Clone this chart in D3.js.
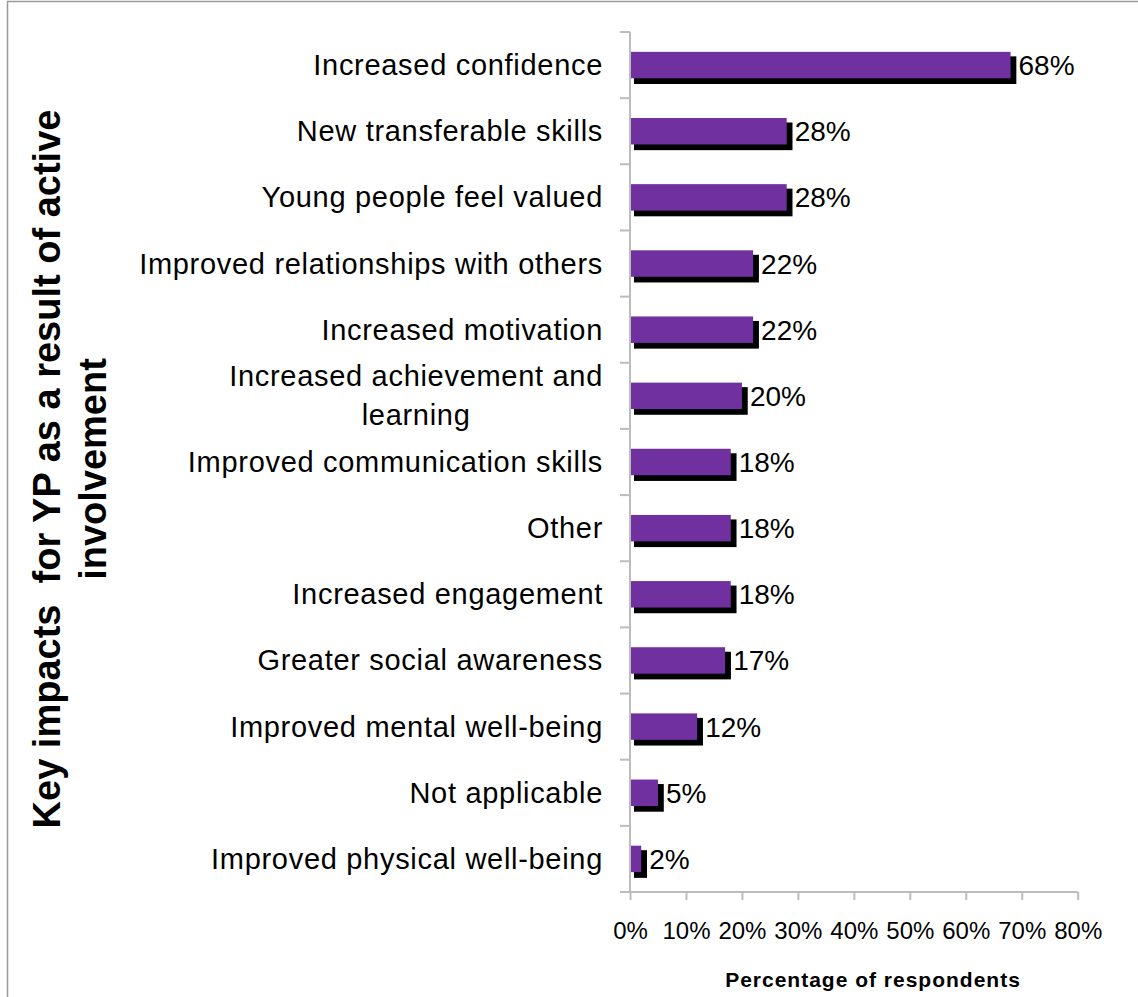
<!DOCTYPE html>
<html>
<head>
<meta charset="utf-8">
<script src="https://cdn.jsdelivr.net/npm/d3@7"></script>
<style>
  html, body { margin: 0; padding: 0; background: #fff; }
  svg { display: block; font-family: "Liberation Sans", Arial, sans-serif; }
</style>
</head>
<body>
<svg id="chart" width="1138" height="997"></svg>
<script>
// Impact categories, top to bottom
const categories = [
  "Increased confidence",
  "New transferable skills",
  "Young people feel valued",
  "Improved relationships with others",
  "Increased motivation",
  "Increased achievement and learning",
  "Improved communication skills",
  "Other",
  "Increased engagement",
  "Greater social awareness",
  "Improved mental well-being",
  "Not applicable",
  "Improved physical well-being"
];
// Share of respondents (%) for each category
const values = [68, 28, 28, 22, 22, 20, 18, 18, 18, 17, 12, 5, 2];
// Wrapped category labels
const labelLines = {
  "Increased achievement and learning": ["Increased achievement and", "learning"]
};
const xTicks = [0, 10, 20, 30, 40, 50, 60, 70, 80];
const yTitleLines = ["Key impacts  for YP as a result of active", "involvement"];
const xTitle = "Percentage of respondents";

const svg = d3.select("#chart");
const W = 1138, H = 997;
const plot = { left: 630, right: 1077.7, top: 32, bottom: 892 };
const axisColor = "#bcbcbc";
const barColor = "#7030A0";
const labelSize = 29, labelSpacing = 0.7;

// Outer frame (only top and left edges fall inside the canvas)
svg.append("rect")
  .attr("x", 7.5).attr("y", 1.5)
  .attr("width", W + 20).attr("height", H + 20)
  .attr("fill", "none").attr("stroke", "#9a9a9a").attr("stroke-width", 1.5);

const x = d3.scaleLinear().domain([0, 80]).range([plot.left, plot.right]);
const y = d3.scaleBand().domain(categories).range([plot.top, plot.bottom]).padding(0);
const barH = y.bandwidth() * 0.4;

// Bars with offset drop shadow
const g = svg.append("g");
const rows = g.selectAll("g.row").data(categories.map((c, i) => ({ c, v: values[i] })))
  .join("g").attr("class", "row");

rows.append("rect")
  .attr("x", x(0) + 4)
  .attr("y", d => y(d.c) + y.bandwidth() / 2 - barH / 2 + 4.5)
  .attr("width", d => x(d.v) - x(0) + 1.8)
  .attr("height", barH + 1.2)
  .attr("fill", "#000");

rows.append("rect")
  .attr("x", x(0))
  .attr("y", d => y(d.c) + y.bandwidth() / 2 - barH / 2)
  .attr("width", d => x(d.v) - x(0))
  .attr("height", barH)
  .attr("fill", barColor);

// Value labels
rows.append("text")
  .attr("x", d => x(d.v) + 8)
  .attr("y", d => y(d.c) + y.bandwidth() / 2 + 10)
  .attr("font-size", 28)
  .attr("fill", "#000")
  .text(d => d.v + "%");

// Category axis line and ticks at band boundaries
const yAxisG = svg.append("g");
yAxisG.append("line")
  .attr("x1", plot.left).attr("x2", plot.left)
  .attr("y1", plot.top).attr("y2", plot.bottom)
  .attr("stroke", axisColor).attr("stroke-width", 2);
const bounds = categories.map(c => y(c)).concat([plot.bottom]);
yAxisG.selectAll("line.tick").data(bounds).join("line")
  .attr("class", "tick")
  .attr("x1", plot.left - 10).attr("x2", plot.left)
  .attr("y1", d => d).attr("y2", d => d)
  .attr("stroke", axisColor).attr("stroke-width", 2);

// Category labels
const labelRight = 603;
categories.forEach(c => {
  const cy = y(c) + y.bandwidth() / 2;
  const lines = labelLines[c] || [c];
  if (lines.length === 1) {
    svg.append("text")
      .attr("x", labelRight).attr("y", cy + 10)
      .attr("text-anchor", "end")
      .attr("font-size", labelSize).attr("letter-spacing", labelSpacing)
      .text(c);
  } else {
    const first = svg.append("text")
      .attr("x", labelRight).attr("y", cy - 9.5)
      .attr("text-anchor", "end")
      .attr("font-size", labelSize).attr("letter-spacing", labelSpacing)
      .text(lines[0]);
    const w = first.node().getComputedTextLength();
    svg.append("text")
      .attr("x", labelRight - w / 2).attr("y", cy + 29.5)
      .attr("text-anchor", "middle")
      .attr("font-size", labelSize).attr("letter-spacing", labelSpacing)
      .text(lines[1]);
  }
});

// Value axis
const xAxis = d3.axisBottom(x).tickValues(xTicks).tickSize(8).tickPadding(0).tickFormat(d => d + "%");
const xg = svg.append("g").attr("transform", `translate(0,${plot.bottom})`).call(xAxis);
xg.select(".domain").remove();
xg.append("line")
  .attr("x1", plot.left - 10).attr("x2", plot.right)
  .attr("y1", 0).attr("y2", 0)
  .attr("stroke", axisColor).attr("stroke-width", 2);
xg.selectAll(".tick line").attr("stroke", axisColor).attr("stroke-width", 2);
xg.selectAll(".tick text")
  .attr("y", 47).attr("dy", null)
  .attr("font-size", 24)
  .attr("font-family", "Liberation Sans, Arial, sans-serif")
  .attr("fill", "#000");

// Value axis title
svg.append("text")
  .attr("x", 873).attr("y", 987)
  .attr("text-anchor", "middle")
  .attr("font-size", 21).attr("font-weight", "bold").attr("letter-spacing", 1)
  .text(xTitle);

// Category axis title, rotated, two lines
const yTitle = svg.append("text")
  .attr("transform", "translate(0,469) rotate(-90)")
  .attr("text-anchor", "middle")
  .attr("font-size", 38).attr("font-weight", "bold")
  .attr("xml:space", "preserve")
  .style("white-space", "pre");
yTitle.append("tspan").attr("x", 0).attr("y", 60).text(yTitleLines[0]);
yTitle.append("tspan").attr("x", 0).attr("y", 106).text(yTitleLines[1]);
</script>
</body>
</html>
